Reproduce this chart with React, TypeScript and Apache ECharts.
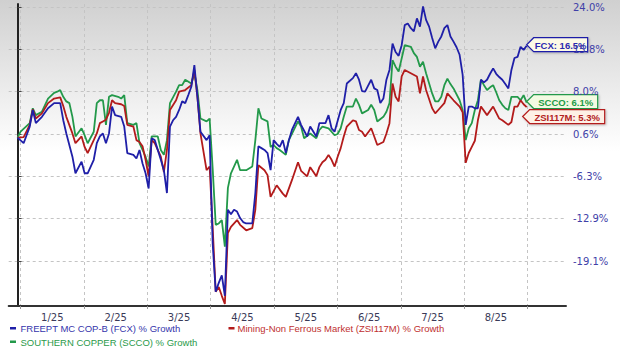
import React, { useEffect, useRef } from "react";
import * as echarts from "echarts";

// x = trading-day index from the start of the period (day 0 = last close of 2024)
// y = % growth since start
const monthLabels = ["1/25", "2/25", "3/25", "4/25", "5/25", "6/25", "7/25", "8/25"];
const yTickValues = [-19.1, -12.9, -6.3, 0.6, 8.0, 15.8, 24.0];
const yTickLabels = ["-19.1%", "-12.9%", "-6.3%", "0.6%", "8.0%", "15.8%", "24.0%"];

const fcxDays = [0, 2, 4, 5, 6, 8, 10, 12, 14, 15, 16, 18, 19, 21, 22, 23, 25, 26, 27, 28, 29, 30, 31, 32, 34, 35, 36, 38, 39, 40, 41, 42, 43, 44, 45, 47, 48, 49, 50, 51, 52, 53, 54, 55, 56, 57, 58, 59, 60, 62, 63, 64, 65, 66, 67, 68, 69, 70, 71, 72, 73, 74, 75, 77, 78, 79, 80, 81, 82, 83, 84, 85, 86, 87, 88, 89, 90, 92, 93, 95, 96, 98, 99, 101, 102, 103, 104, 106, 107, 108, 110, 111, 112, 113, 114, 115, 116, 117, 118, 119, 120, 121, 122, 123, 124, 125, 126, 127, 128, 129, 130, 131, 132, 133, 134, 135, 136, 137, 138, 139, 140, 141, 142, 143, 144, 145, 146, 147, 148, 149, 150, 151, 152, 153, 154, 155, 156, 157, 158, 159, 160, 161, 162, 163, 164, 165, 166, 167];
const fcxGrowth = [0.0, -0.9, 1.9, 4.8, 2.5, 3.6, 5.1, 6.0, 6.0, 3.0, 0.7, -3.1, -5.8, -3.9, -5.8, -5.8, -3.6, -0.9, 0.2, 0.7, -0.9, 0.7, 5.4, 3.9, 3.6, 1.9, -2.5, -2.8, -3.4, -2.0, -4.2, -5.8, -8.2, -0.1, -0.4, -3.6, -5.3, -8.9, 1.9, 3.0, 3.6, 4.8, 6.3, 6.0, 7.4, 8.9, 12.9, 7.1, 1.0, -0.4, 0.4, -16.5, -23.6, -22.3, -21.2, -24.2, -11.5, -12.2, -11.5, -11.8, -12.8, -13.4, -13.6, -13.6, -8.9, -1.4, -1.7, -2.0, -2.5, -5.3, -0.4, -1.0, -1.5, -0.4, -2.5, -0.4, 1.3, 3.6, 2.2, 0.2, 1.9, 0.2, 2.5, 2.5, 3.9, 1.6, 1.0, 4.8, 6.0, 9.5, 10.5, 11.4, 10.2, 8.1, 8.0, 9.1, 10.2, 8.6, 8.3, 6.0, 6.8, 10.2, 12.0, 16.9, 15.3, 14.6, 16.6, 20.5, 20.8, 19.9, 19.3, 21.8, 20.2, 24.1, 21.5, 20.2, 18.0, 16.0, 17.3, 18.3, 19.9, 20.5, 18.3, 17.3, 16.2, 14.8, 11.1, 2.2, 5.4, 5.4, 5.1, 5.1, 10.2, 9.7, 10.2, 11.3, 12.3, 11.3, 10.7, 10.2, 9.4, 8.6, 12.0, 14.2, 14.4, 16.3, 15.7, 16.5];

const zsiDays = [0, 2, 4, 5, 6, 8, 10, 12, 14, 15, 16, 18, 19, 21, 22, 23, 25, 26, 27, 28, 29, 30, 31, 32, 34, 35, 36, 38, 39, 40, 41, 42, 43, 44, 45, 47, 48, 49, 50, 52, 53, 55, 57, 58, 59, 60, 62, 63, 64, 65, 66, 67, 68, 69, 70, 72, 73, 75, 77, 78, 79, 81, 82, 83, 85, 87, 88, 90, 92, 93, 95, 96, 98, 99, 100, 101, 102, 103, 104, 105, 106, 107, 108, 110, 111, 112, 113, 114, 116, 117, 118, 120, 121, 122, 123, 124, 125, 126, 127, 129, 131, 132, 133, 134, 136, 137, 138, 140, 141, 143, 145, 146, 147, 148, 149, 150, 151, 152, 154, 156, 158, 159, 161, 162, 163, 164, 165, 166, 167];
const zsiGrowth = [0.0, 0.1, 2.2, 4.9, 3.3, 4.2, 6.0, 6.8, 7.0, 5.5, 3.6, 0.7, -0.9, 0.2, -1.5, -2.5, -0.4, 0.7, 2.5, 2.8, 3.1, 4.3, 6.5, 6.0, 5.8, 5.5, 2.2, 1.9, -0.4, -0.7, -1.4, -3.6, -6.3, -0.4, -0.9, -3.1, -5.6, -2.0, 4.8, 6.5, 8.0, 8.3, 9.2, 12.0, 7.1, 0.7, -5.3, -4.7, -14.1, -23.6, -22.9, -24.2, -25.4, -15.0, -14.1, -13.1, -13.8, -14.6, -14.3, -11.5, -4.5, -5.3, -6.1, -9.5, -7.7, -9.0, -9.5, -6.9, -4.0, -5.4, -6.3, -4.8, -6.3, -4.8, -4.0, -3.6, -2.8, -3.6, -4.7, -3.1, -1.7, 0.2, 1.9, 3.0, 2.8, 1.3, 1.0, 0.2, 1.6, 0.2, -1.2, -0.7, 0.7, 2.5, 9.5, 7.1, 6.3, 10.8, 12.0, 11.4, 10.8, 7.7, 10.8, 8.3, 5.1, 4.2, 4.8, 6.0, 7.7, 6.5, 5.4, 4.4, -4.1, -2.5, -1.5, -0.5, 3.0, 5.4, 3.9, 5.4, 3.3, 3.0, 2.2, 2.7, 5.4, 5.4, 6.5, 5.8, 5.3];

const sccoDays = [0, 1, 4, 5, 6, 8, 10, 12, 13, 14, 15, 16, 17, 18, 19, 21, 22, 23, 25, 26, 27, 28, 29, 30, 31, 33, 34, 35, 36, 38, 39, 40, 42, 43, 44, 46, 47, 48, 49, 50, 52, 53, 54, 55, 57, 58, 59, 60, 62, 63, 64, 65, 66, 67, 68, 69, 70, 72, 73, 75, 77, 78, 79, 80, 82, 83, 84, 85, 86, 88, 89, 92, 93, 94, 96, 98, 99, 100, 102, 103, 104, 105, 106, 107, 108, 110, 111, 112, 113, 115, 116, 117, 118, 120, 121, 122, 123, 124, 125, 127, 129, 130, 131, 132, 133, 134, 136, 137, 138, 139, 140, 141, 142, 143, 145, 146, 147, 148, 149, 150, 151, 152, 153, 154, 155, 156, 157, 158, 159, 160, 161, 162, 163, 164, 165, 166, 167];
const sccoGrowth = [0.0, 1.0, 2.5, 5.1, 3.9, 4.5, 6.8, 7.8, 8.0, 8.3, 7.1, 6.3, 6.0, 3.6, 0.2, 1.6, 0.4, -0.9, 1.0, 6.0, 6.5, 6.5, 2.2, 7.1, 7.4, 7.1, 6.8, 7.4, 2.5, 2.2, 2.5, -0.9, -3.1, -4.7, 0.2, 0.2, -2.0, -2.8, -0.4, 6.0, 8.0, 9.2, 9.2, 10.2, 9.5, 11.4, 8.3, 3.3, 2.8, 3.3, -5.0, -13.8, -13.6, -13.1, -17.0, -8.1, -5.8, -3.6, -5.3, -5.3, -4.7, -0.4, 5.1, 3.3, 2.8, -1.5, -1.2, -1.7, -2.0, -2.8, -0.4, 2.8, 1.9, -0.1, 0.7, -0.1, 1.3, 1.9, 1.6, 1.0, 0.4, 0.6, 1.6, 3.6, 5.4, 5.4, 6.8, 5.7, 4.2, 4.8, 5.7, 4.8, 2.8, 3.6, 4.5, 6.0, 13.8, 12.6, 11.7, 16.6, 16.3, 15.1, 14.4, 12.6, 13.5, 11.4, 7.7, 6.3, 6.3, 7.1, 9.2, 10.4, 9.4, 8.6, 6.5, 4.8, -0.4, 1.6, 2.5, 4.8, 6.5, 10.2, 9.2, 8.3, 8.8, 9.2, 7.9, 6.5, 5.7, 5.1, 4.8, 7.1, 7.1, 7.1, 6.5, 7.4, 6.1];

const BLUE = "#1f1fa8";
const RED = "#b31b1b";
const GREEN = "#23994a";

const GRID_START = 1.0;
const MONTH_SPAN = 20.79;

function toAxis(p: number): number {
  const t = yTickValues;
  let i = 0;
  if (p <= t[0]) i = 0;
  else if (p >= t[t.length - 1]) i = t.length - 2;
  else {
    while (p > t[i + 1]) i++;
  }
  return i + (p - t[i]) / (t[i + 1] - t[i]);
}

const pairs = (days: number[], vals: number[]) => days.map((d, i) => [d, toAxis(vals[i])]);

export default function App() {
  const ref = useRef<HTMLDivElement>(null);
  useEffect(() => {
    const chart = echarts.init(ref.current!, undefined, { renderer: "svg" });
    const gridTicks = Array.from({ length: 9 }, (_, k) => GRID_START + k * MONTH_SPAN);
    const labelTicks = monthLabels.map((_, k) => GRID_START + (k + 0.5) * MONTH_SPAN);
    const font = "DejaVu Sans";
    chart.setOption({
      animation: false,
      backgroundColor: {
        type: "linear", x: 0, y: 0, x2: 0, y2: 1,
        colorStops: [
          { offset: 0, color: "#d0d0d0" },
          { offset: 0.43, color: "#ffffff" },
          { offset: 1, color: "#ffffff" },
        ],
      },
      grid: { left: 8.7, right: 54, top: 4, bottom: 47, outerBoundsMode: "none" },
      xAxis: {
        type: "value",
        min: -2.9,
        max: 179.9,
        axisLine: { show: true, onZero: false, lineStyle: { color: "#333", width: 2 } },
        axisTick: { show: true, customValues: gridTicks, length: 3, lineStyle: { color: "#999" } },
        splitLine: { show: true, lineStyle: { color: "#c4c4c4", type: [3, 3], width: 1 } },
        axisLabel: {
          customValues: labelTicks,
          margin: 6,
          color: "#3a3a58",
          fontFamily: font,
          fontSize: 10,
          formatter: (v: number) => monthLabels[Math.round((v - GRID_START) / MONTH_SPAN - 0.5)] ?? "",
        },
      },
      yAxis: {
        type: "value",
        position: "right",
        min: -1.063,
        max: 6.071,
        axisLine: { show: true, lineStyle: { color: "#222", width: 2 } },
        axisTick: { show: true, customValues: [0, 1, 2, 3, 4, 5, 6], length: 4, lineStyle: { color: "#444" } },
        splitLine: { show: true, lineStyle: { color: "#c4c4c4", type: [3, 3], width: 1 } },
        axisLabel: {
          customValues: [0, 1, 2, 3, 4, 5, 6],
          margin: 7,
          color: "#4040a8",
          fontFamily: font,
          fontSize: 10,
          formatter: (v: number) => yTickLabels[Math.round(v)] ?? "",
        },
      },
      series: [
        { name: "SCCO", type: "line", data: pairs(sccoDays, sccoGrowth), showSymbol: false, symbol: "none", lineStyle: { color: GREEN, width: 1.8 }, z: 2 },
        { name: "ZSI117M", type: "line", data: pairs(zsiDays, zsiGrowth), showSymbol: false, symbol: "none", lineStyle: { color: RED, width: 1.8 }, z: 3 },
        { name: "FCX", type: "line", data: pairs(fcxDays, fcxGrowth), showSymbol: false, symbol: "none", lineStyle: { color: BLUE, width: 1.8 }, z: 4 },
      ],
    });

    const endPx = (days: number[], vals: number[]) =>
      chart.convertToPixel({ gridIndex: 0 }, [days[days.length - 1], toAxis(vals[vals.length - 1])]) as number[];
    const fEnd = endPx(fcxDays, fcxGrowth);
    const sEnd = endPx(sccoDays, sccoGrowth);
    const zEnd = endPx(zsiDays, zsiGrowth);

    const callout = (id: string, tx: number, cy: number, w: number, text: string, stroke: string, fill: string, color: string) => ({
      type: "group",
      id,
      z: 100,
      children: [
        {
          type: "polygon",
          shape: { points: [[tx, cy], [tx + 7, cy - 7], [tx + w, cy - 7], [tx + w, cy + 7], [tx + 7, cy + 7]] },
          style: { fill, stroke, lineWidth: 1.2, shadowBlur: 2, shadowColor: "rgba(0,0,0,0.25)", shadowOffsetX: 1, shadowOffsetY: 1 },
        },
        {
          type: "text",
          x: tx + 7 + (w - 7) / 2,
          y: cy + 0.5,
          style: { text, fill: color, font: 'bold 9.5px "Liberation Sans"', align: "center", verticalAlign: "middle" },
        },
      ],
    });

    const fCy = fEnd[1] - 1;
    const sCy = sEnd[1] - 1;
    const zCy = Math.max(zEnd[1], sCy + 15);
    const legendFont = '9.5px "Liberation Sans"';

    chart.setOption({
      graphic: [
        callout("fcxLabel", fEnd[0], fCy, 61, `FCX: ${fcxGrowth[fcxGrowth.length - 1].toFixed(1)}%`, BLUE, "#fdfbe6", "#2b2bb0"),
        callout("sccoLabel", sEnd[0], sCy, 71, `SCCO: ${sccoGrowth[sccoGrowth.length - 1].toFixed(1)}%`, GREEN, "#f3fae2", "#239a46"),
        callout("zsiLabel", zEnd[0] - 4, zCy, 82, `ZSI117M: ${zsiGrowth[zsiGrowth.length - 1].toFixed(1)}%`, RED, "#fdf0e6", "#b22222"),
        { type: "rect", shape: { x: 10, y: 327, width: 6, height: 2.5 }, style: { fill: BLUE } },
        { type: "text", x: 20.5, y: 328.5, style: { text: "FREEPT MC COP-B (FCX) % Growth", fill: "#3535ac", font: legendFont, verticalAlign: "middle" } },
        { type: "rect", shape: { x: 228.5, y: 327, width: 6, height: 2.5 }, style: { fill: RED } },
        { type: "text", x: 237.5, y: 328.5, style: { text: "Mining-Non Ferrous Market (ZSI117M) % Growth", fill: "#c03030", font: legendFont, verticalAlign: "middle" } },
        { type: "rect", shape: { x: 10, y: 340.5, width: 6, height: 2.5 }, style: { fill: GREEN } },
        { type: "text", x: 20.5, y: 342, style: { text: "SOUTHERN COPPER (SCCO) % Growth", fill: "#2a9a4a", font: legendFont, verticalAlign: "middle" } },
      ],
    });

    return () => chart.dispose();
  }, []);
  return <div ref={ref} style={{ position: "fixed", left: 0, top: 0, width: 620, height: 353 }} />;
}
